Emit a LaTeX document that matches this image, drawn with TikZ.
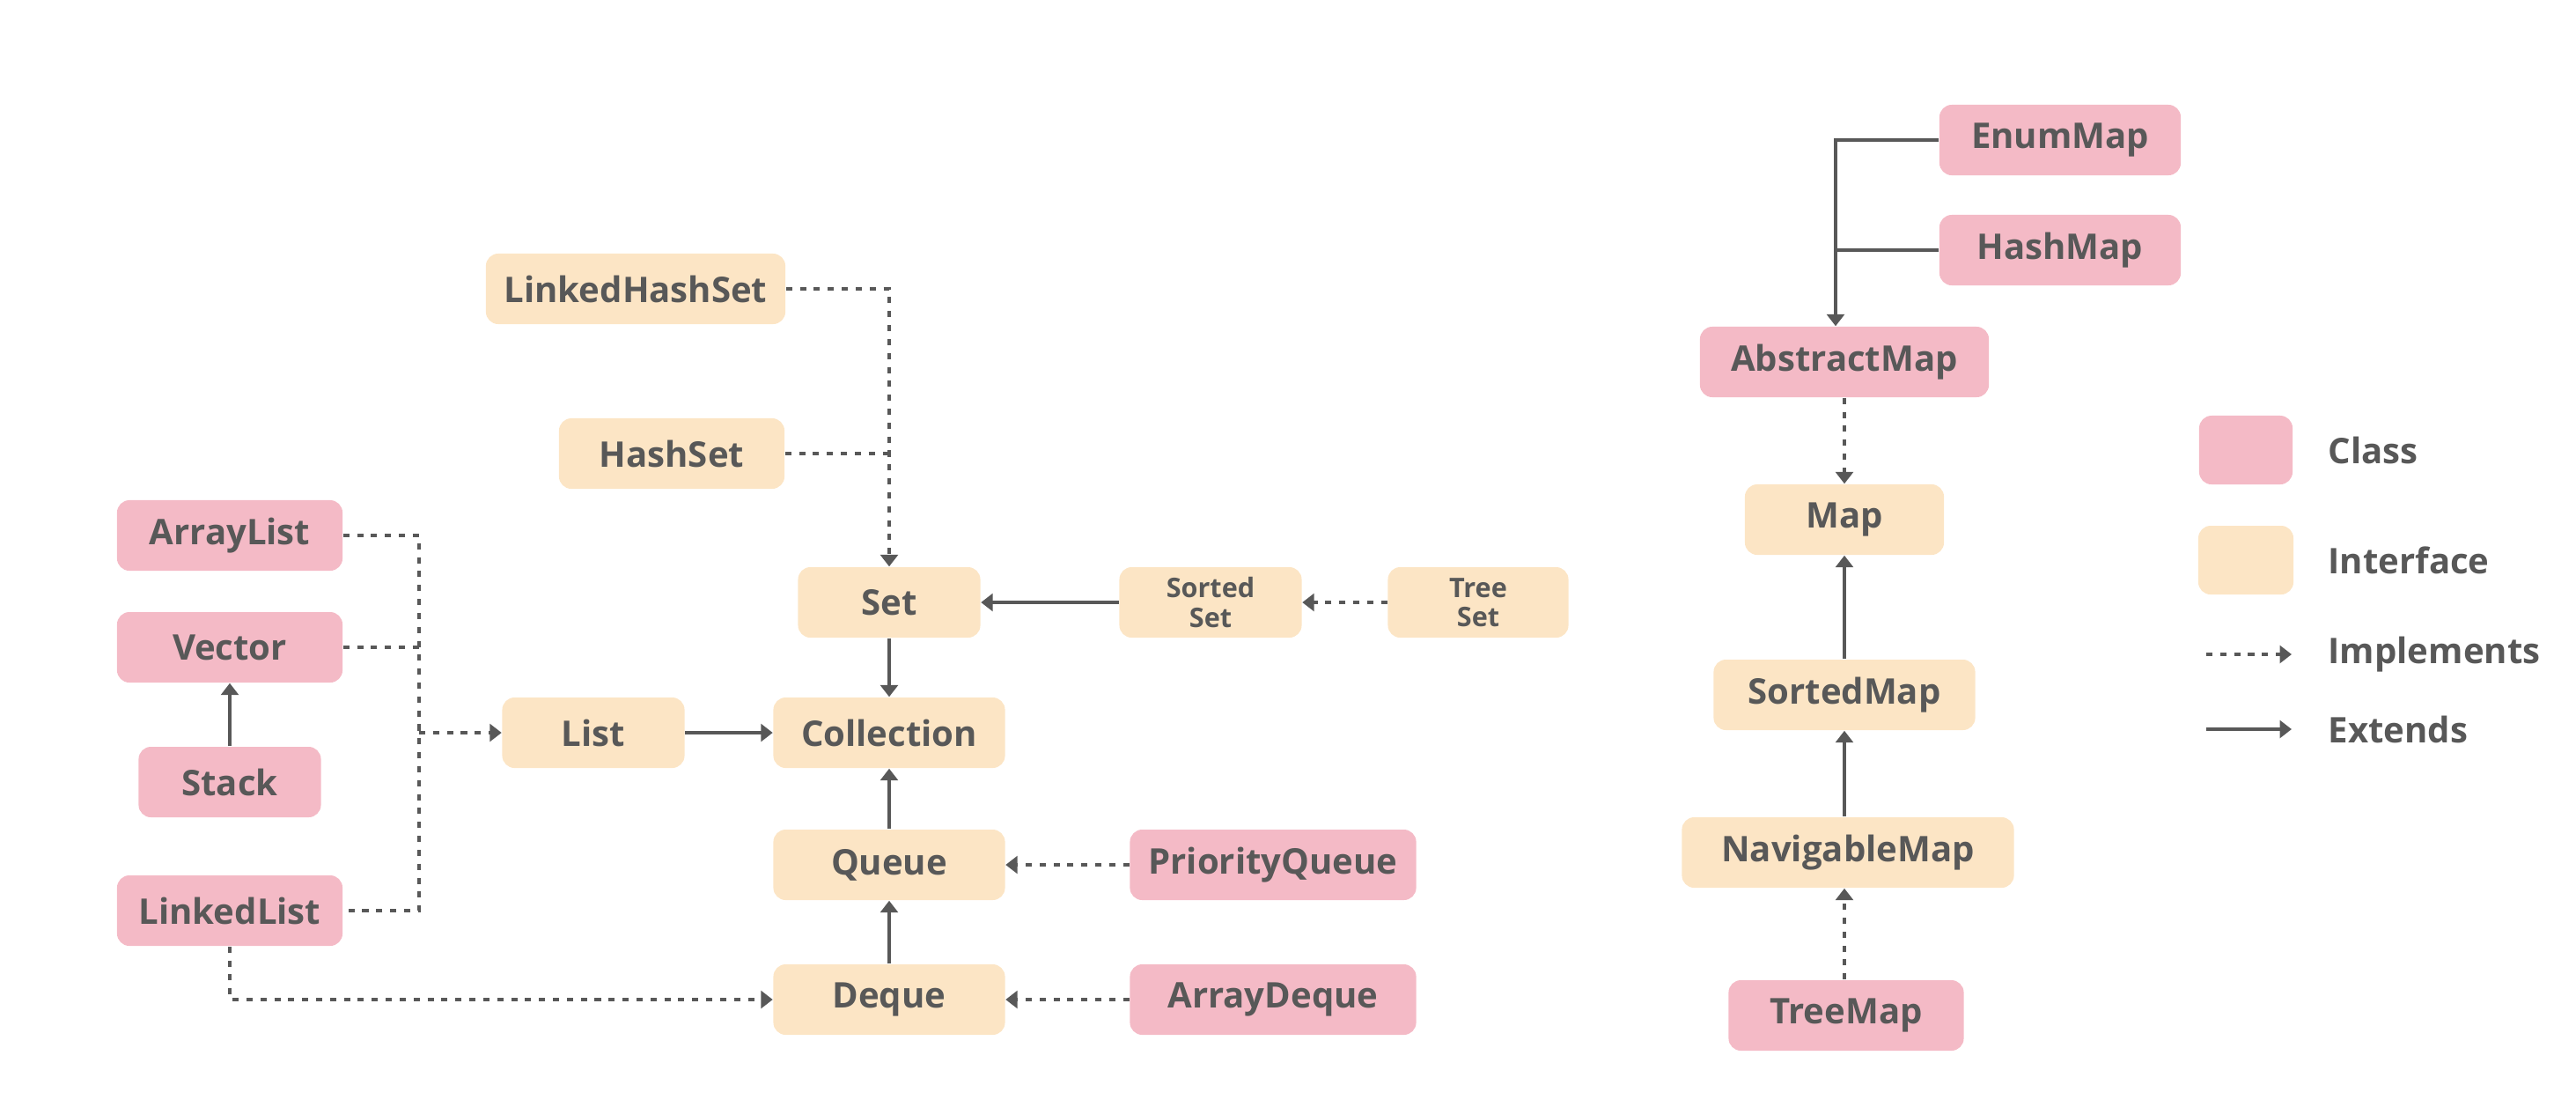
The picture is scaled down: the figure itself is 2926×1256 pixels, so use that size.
\documentclass[tikz,border=0pt]{standalone}
\usepackage{fontspec}
\setmainfont{Open Sans}
\usetikzlibrary{arrows.meta}
\definecolor{classpink}{RGB}{244,186,198}
\definecolor{ifacecream}{RGB}{252,229,197}
\definecolor{inkgray}{RGB}{88,88,88}
\begin{document}
\begin{tikzpicture}[x=0.01cm, y=-0.01cm,
  box/.style={rounded corners=4pt, inner sep=0pt, minimum height=0.8cm, text=inkgray,
    font=\fontsize{11.4}{13}\selectfont\bfseries},
  cls/.style={box, fill=classpink},
  ifc/.style={box, fill=ifacecream},
  small/.style={font=\fontsize{8.7}{9.5}\selectfont\bfseries, align=center},
  keytxt/.style={anchor=west, inner sep=0pt, text=inkgray, font=\fontsize{11.4}{13}\selectfont\bfseries},
  ext/.style={draw=inkgray, line width=1.1pt, -{Triangle[length=3.8pt,width=5.6pt]}},
  impl/.style={ext, dash pattern=on 2pt off 2.5pt}]
       \useasboundingbox (0,0) rectangle (2926,1256);
       % collection side
       \node[ifc, minimum width=3.40cm] (linkedhashset) at (722,328) {LinkedHashSet};
       \node[ifc, minimum width=2.56cm] (hashset) at (763,515) {HashSet};
       \node[cls, minimum width=2.56cm] (arraylist) at (261,608) {ArrayList};
       \node[cls, minimum width=2.56cm] (vector) at (261,735) {Vector};
       \node[cls, minimum width=2.07cm] (stack) at (261,888) {Stack};
       \node[cls, minimum width=2.56cm] (linkedlist) at (261,1034) {LinkedList};
       \node[ifc, minimum width=2.07cm] (list) at (674,832) {List};
       \node[ifc, minimum width=2.07cm] (set) at (1010,684) {Set};
       \node[ifc, minimum width=2.63cm] (collection) at (1010,832) {Collection};
       \node[ifc, minimum width=2.63cm] (queue) at (1010,982) {Queue};
       \node[ifc, minimum width=2.63cm] (deque) at (1010,1135) {Deque};
       \node[ifc, small, minimum width=2.07cm] (sortedset) at (1375,684) {Sorted\\Set};
       \node[ifc, small, minimum width=2.05cm] (treeset) at (1679,684) {Tree\\Set};
       \node[cls, minimum width=3.25cm] (priorityqueue) at (1446,982) {PriorityQueue};
       \node[cls, minimum width=3.25cm] (arraydeque) at (1446,1135) {ArrayDeque};
       \coordinate (listbus) at (476,832);
       \draw[impl] (linkedhashset.east) -| (set.north);
       \draw[impl, -] (hashset.east) -- (hashset -| set);
       \draw[impl, -] (arraylist.east) -| (listbus |- linkedlist) -- (linkedlist.east);
       \draw[impl, -] (vector.east) -- (vector -| listbus);
       \draw[impl] (listbus) -- (list.west);
       \draw[impl] (linkedlist.south) |- (deque.west);
       \draw[ext] (stack.north) -- (vector.south);
       \draw[ext] (list.east) -- (collection.west);
       \draw[ext] (set.south) -- (collection.north);
       \draw[ext] (queue.north) -- (collection.south);
       \draw[ext] (deque.north) -- (queue.south);
       \draw[ext] (sortedset.west) -- (set.east);
       \draw[impl] (treeset.west) -- (sortedset.east);
       \draw[impl] (priorityqueue.west) -- (queue.east);
       \draw[impl] (arraydeque.west) -- (deque.east);
       % map side
       \node[cls, minimum width=2.74cm] (enummap) at (2340,159) {EnumMap};
       \node[cls, minimum width=2.74cm] (hashmap) at (2340,284) {HashMap};
       \node[cls, minimum width=3.28cm] (abstractmap) at (2095,411) {AbstractMap};
       \node[ifc, minimum width=2.26cm] (map) at (2095,590) {Map};
       \node[ifc, minimum width=2.97cm] (sortedmap) at (2095,789) {SortedMap};
       \node[ifc, minimum width=3.77cm] (navigablemap) at (2099,968) {NavigableMap};
       \node[cls, minimum width=2.67cm] (treemap) at (2097,1153) {TreeMap};
       \coordinate (mapbus) at (2085,0);
       \draw[ext] (enummap.west) -| (abstractmap.north -| mapbus);
       \draw[ext, -] (hashmap.west) -- (hashmap -| mapbus);
       \draw[impl] (abstractmap.south) -- (map.north);
       \draw[ext] (sortedmap.north) -- (map.south);
       \draw[ext] (navigablemap.north -| sortedmap) -- (sortedmap.south);
       \draw[impl] (treemap.north -| sortedmap) -- (navigablemap.south -| sortedmap);
       % legend
       \node[cls, minimum width=1.06cm, minimum height=0.78cm] (keyclass) at (2551,511) {};
       \node[ifc, minimum width=1.08cm, minimum height=0.78cm] (keyiface) at (2551,636) {};
       \node[keytxt] (keyclasstxt) at (2644,511) {Class};
       \node[keytxt] (keyifacetxt) at (2644,636) {Interface};
       \node[keytxt] (keyimpltxt) at (2644,743) {Implements};
       \node[keytxt] (keyexttxt) at (2644,828) {Extends};
       \coordinate (keyimplA) at (2506,743);
       \coordinate (keyimplB) at (2603,743);
       \coordinate (keyextA) at (2506,828);
       \coordinate (keyextB) at (2603,828);
       \draw[impl] (keyimplA) -- (keyimplB);
       \draw[ext] (keyextA) -- (keyextB);
\end{tikzpicture}
\end{document}
